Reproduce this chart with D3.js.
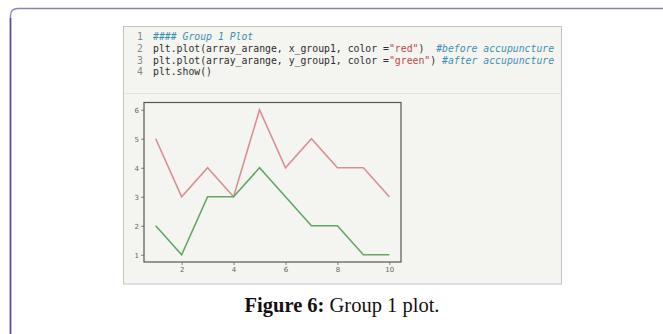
<!DOCTYPE html>
<html>
<head>
<meta charset="utf-8">
<script src="https://cdn.jsdelivr.net/npm/d3@7"></script>
<style>
  html, body { margin: 0; padding: 0; background: #ffffff; }
  svg { display: block; }
</style>
</head>
<body>
<svg id="fig" width="663" height="334"></svg>
<script>
// Sessions 1..10 and scores for group 1
const xValues = [1, 2, 3, 4, 5, 6, 7, 8, 9, 10];
const beforeScores = [5, 3, 4, 3, 6, 4, 5, 4, 4, 3];   // before acupuncture
const afterScores  = [2, 1, 3, 3, 4, 3, 2, 2, 1, 1];   // after acupuncture
const xTicks = [2, 4, 6, 8, 10];
const yTicks = [1, 2, 3, 4, 5, 6];
const captionBold = "Figure 6:";
const captionText = " Group 1 plot.";

// Notebook source lines, split into styled tokens
const codeLines = [
  [["#### Group 1 Plot", "cm"]],
  [["plt.plot(array_arange, x_group1, color =", "tx"], ["\"red\"", "st"], [")  ", "tx"], ["#before accupuncture", "cm"]],
  [["plt.plot(array_arange, y_group1, color =", "tx"], ["\"green\"", "st"], [") ", "tx"], ["#after accupuncture", "cm"]],
  [["plt.show()", "tx"]]
];

const svg = d3.select("#fig");

// Outer page frame (rounded corner, runs off right and bottom)
svg.append("path")
  .attr("d", "M10.5,334 L10.5,16 Q10.5,8.5 18,8.5 L663,8.5")
  .attr("fill", "none")
  .attr("stroke", "#8a82c0")
  .attr("stroke-width", 1.4);
svg.append("line")
  .attr("x1", 10.5).attr("x2", 10.5).attr("y1", 18).attr("y2", 334)
  .attr("stroke", "#5a4f9e").attr("stroke-width", 1.6);

// Notebook screenshot panel
const shot = svg.append("g");
shot.append("rect")
  .attr("x", 123.5).attr("y", 26.5).attr("width", 438).attr("height", 257.5)
  .attr("fill", "#f4f4f0").attr("stroke", "#c4c4c0").attr("stroke-width", 1);
shot.append("line")
  .attr("x1", 124).attr("x2", 561).attr("y1", 93.5).attr("y2", 93.5)
  .attr("stroke", "#e2e2de").attr("stroke-width", 1);

const colors = { tx: "#2e2e2e", st: "#b84a4a", cm: "#3f8fb2" };
const lineY = [40, 52, 63.5, 75];
codeLines.forEach((tokens, i) => {
  shot.append("text")
    .attr("x", 140).attr("y", lineY[i])
    .attr("text-anchor", "middle")
    .attr("font-family", "DejaVu Sans Mono, monospace")
    .attr("font-size", 9.8)
    .attr("fill", "#8a8a8a")
    .text(i + 1);
  const t = shot.append("text")
    .attr("x", 153).attr("y", lineY[i])
    .attr("font-family", "DejaVu Sans Mono, monospace")
    .attr("font-size", 9.8)
    .attr("xml:space", "preserve")
    .style("white-space", "pre");
  tokens.forEach(([s, k]) => {
    t.append("tspan")
      .attr("fill", colors[k])
      .attr("font-style", k === "cm" ? "italic" : "normal")
      .text(s);
  });
});

// Plot area
const plot = { left: 144, right: 401, top: 102.5, bottom: 262 };
const x = d3.scaleLinear().domain([0.55, 10.45]).range([plot.left, plot.right]);
const y = d3.scaleLinear().domain([0.75, 6.25]).range([plot.bottom, plot.top]);

const chart = shot.append("g");

const line = d3.line().x((d, i) => x(xValues[i])).y(d => y(d));

chart.append("path")
  .datum(beforeScores)
  .attr("d", line)
  .attr("fill", "none")
  .attr("stroke", "#d98f8f")
  .attr("stroke-width", 1.6)
  .attr("stroke-linejoin", "miter");

chart.append("path")
  .datum(afterScores)
  .attr("d", line)
  .attr("fill", "none")
  .attr("stroke", "#62a862")
  .attr("stroke-width", 1.6)
  .attr("stroke-linejoin", "miter");

// Axes
const fmt = d3.format("d");
const xAxis = d3.axisBottom(x).tickValues(xTicks).tickFormat(fmt).tickSize(3).tickPadding(2);
const yAxis = d3.axisLeft(y).tickValues(yTicks).tickFormat(fmt).tickSize(3).tickPadding(2);

const gx = chart.append("g")
  .attr("transform", `translate(0,${plot.bottom})`)
  .call(xAxis);
const gy = chart.append("g")
  .attr("transform", `translate(${plot.left},0)`)
  .call(yAxis);

[gx, gy].forEach(g => {
  g.select(".domain").remove();
  g.selectAll(".tick line").attr("stroke", "#666666").attr("stroke-width", 0.8);
  g.selectAll(".tick text")
    .attr("fill", "#666666")
    .attr("font-family", "DejaVu Sans, sans-serif")
    .attr("font-size", 7);
});

// Spines
chart.append("rect")
  .attr("x", plot.left).attr("y", plot.top)
  .attr("width", plot.right - plot.left).attr("height", plot.bottom - plot.top)
  .attr("fill", "none")
  .attr("stroke", "#555555")
  .attr("stroke-width", 1.2);

// Caption
const cap = svg.append("text")
  .attr("x", 342).attr("y", 312)
  .attr("text-anchor", "middle")
  .attr("font-family", "Liberation Serif, Times New Roman, serif")
  .attr("font-size", 20.5)
  .attr("fill", "#111111")
  .attr("xml:space", "preserve")
  .style("white-space", "pre");
cap.append("tspan").attr("font-weight", "bold").text(captionBold);
cap.append("tspan").text(captionText);
</script>
</body>
</html>
